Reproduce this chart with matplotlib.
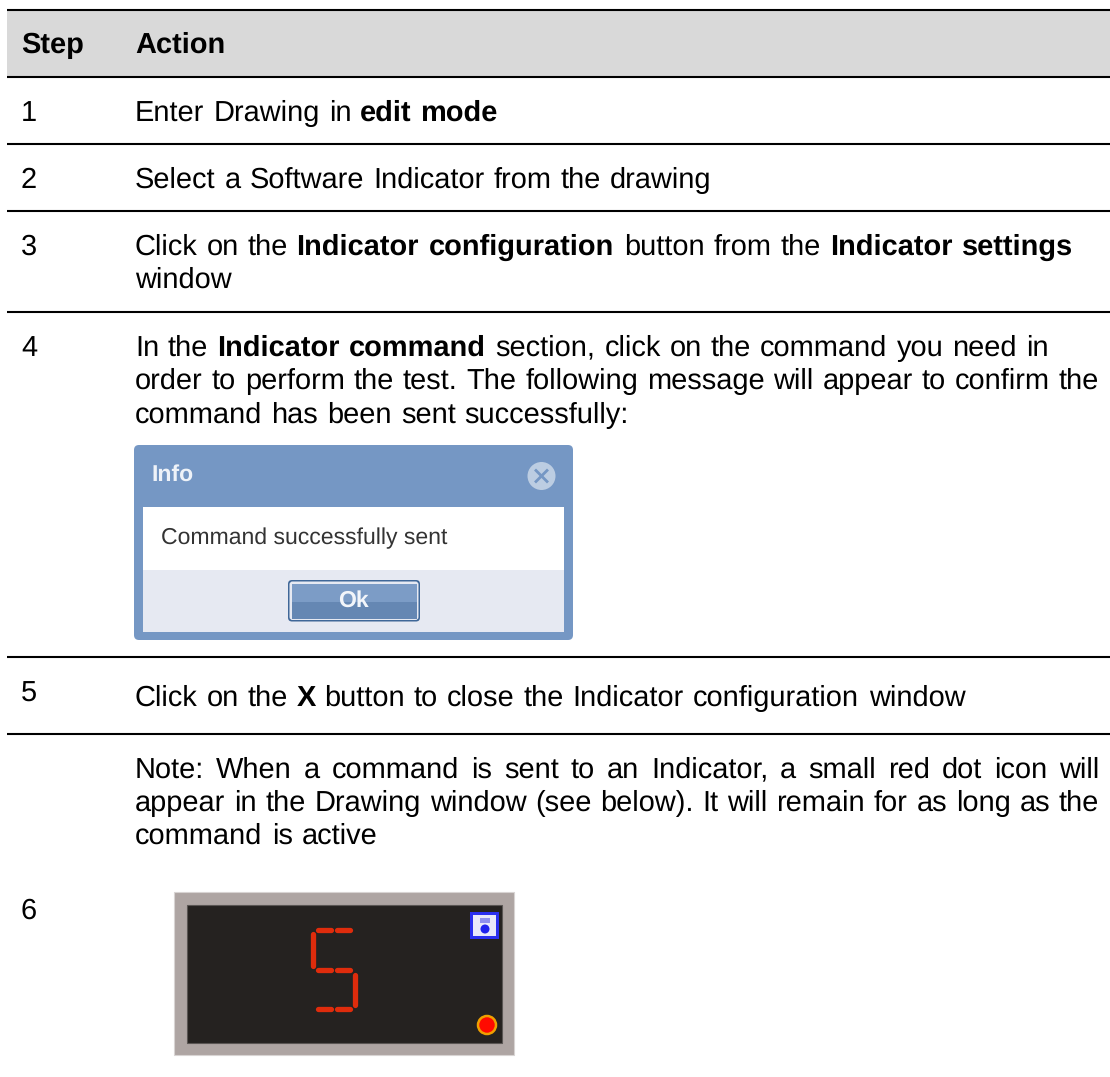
import math
import matplotlib
matplotlib.use("Agg")
import matplotlib.pyplot as plt
from matplotlib.font_manager import FontProperties
from matplotlib.patches import Rectangle, FancyBboxPatch, Circle

plt.rcParams['font.family'] = ['Liberation Sans', 'DejaVu Sans']
plt.rcParams['text.hinting'] = 'no_hinting'
plt.rcParams['text.hinting_factor'] = 1

W, H = 1110, 1077
FONT_PX = 29
WORD_STRETCH = 1.012
fs = FONT_PX * 72 / 100

# Table text. Words between ** are bold
header = ["Step", "Action"]
step_labels = ["1", "2", "3", "4", "5", "6"]
step_y = [121, 188, 255, 356, 701, 919]
row_lines = [
    ("Enter Drawing in **edit mode**", 121, False),
    ("Select a Software Indicator from the drawing", 188, False),
    ("Click on the **Indicator configuration** button from the **Indicator settings**", 255, False),
    ("window", 288, False),
    ("In the **Indicator command** section, click on the command you need in", 356, False),
    ("order to perform the test. The following message will appear to confirm the", 389, True),
    ("command has been sent successfully:", 423, False),
    ("Click on the **X** button to close the Indicator configuration window", 706, False),
    ("Note: When a command is sent to an Indicator, a small red dot icon will", 778, True),
    ("appear in the Drawing window (see below). It will remain for as long as the", 811, True),
    ("command is active", 844, False),
]
rule_y = [10, 77, 144, 210.5, 312, 657, 733.5]

fig = plt.figure(figsize=(W / 100, H / 100), dpi=100)
ax = fig.add_axes([0, 0, 1, 1])
ax.set_xlim(0, W)
ax.set_ylim(H, 0)
ax.axis('off')
renderer = fig.canvas.get_renderer()

TEXT_X = 135
TEXT_RIGHT = 1099


def split_runs(line):
    # gives (word, bold) pairs
    words = []
    for i, part in enumerate(line.split("**")):
        for w in part.split():
            words.append((w, i % 2 == 1))
    return words


def word_width(word, bold):
    t = ax.text(0, 0, word, fontsize=fs, fontweight='bold' if bold else 'normal')
    w = t.get_window_extent(renderer).width
    t.remove()
    return w


def put_text(x, y, word, bold=False):
    # agg places the bitmap from its height and descent, this keeps words on one baseline
    weight = 'bold' if bold else 'normal'
    prop = FontProperties(family='Liberation Sans', size=fs, weight=weight)
    _, h, d = renderer.get_text_width_height_descent(word, prop, False)
    ax.text(x, y + math.floor(h) - math.floor(h - d) - d, word, fontsize=fs, fontweight=weight,
            va='baseline', ha='left', color='black')


space_w = word_width("a a", False) - 2 * word_width("a", False)


def draw_line(line, y, justify):
    words = split_runs(line)
    widths = [word_width(w, b) for w, b in words]
    x = TEXT_X
    if justify:
        gap = (TEXT_RIGHT - TEXT_X - sum(widths)) / (len(words) - 1)
    for (w, b), width in zip(words, widths):
        put_text(x, y, w, b)
        if justify:
            x += width + gap
        else:
            x += (width + space_w) * WORD_STRETCH


# Header band and rules
ax.add_patch(Rectangle((7, 10), W - 7, 67, facecolor='#d9d9d9', edgecolor='none'))
for y in rule_y:
    ax.plot([7, W], [y, y], color='black', lw=1.5, solid_capstyle='butt')

put_text(21, 53, header[0], True)
put_text(135, 53, header[1], True)

for label, y in zip(step_labels, step_y):
    put_text(21, y, label)

for line, y, justify in row_lines:
    draw_line(line, y, justify)

# Info dialog
ax.add_patch(FancyBboxPatch((134, 445), 439, 195, boxstyle='round,pad=0,rounding_size=5',
                            facecolor='#7597c4', edgecolor='none'))
ax.add_patch(Rectangle((142.5, 506.5), 421.5, 63.5, facecolor='white', edgecolor='none'))
ax.add_patch(Rectangle((142.5, 570), 421.5, 61.5, facecolor='#e6e9f2', edgecolor='none'))
ax.text(151, 475, "Info", fontsize=16.5, fontweight='bold', color='#eef2f8', va='center')
ax.add_patch(Circle((541.5, 476), 14, facecolor='#bccde2', edgecolor='none'))
ax.plot([536, 547], [470.5, 481.5], color='#7597c4', lw=2)
ax.plot([536, 547], [481.5, 470.5], color='#7597c4', lw=2)
ax.text(161, 538, "Command successfully sent", fontsize=16.6, color='#333333', va='center')
ax.add_patch(FancyBboxPatch((288, 580), 132, 41.5, boxstyle='round,pad=0,rounding_size=4',
                            facecolor='#3f6798', edgecolor='none'))
ax.add_patch(FancyBboxPatch((289.5, 581.5), 129, 38.5, boxstyle='round,pad=0,rounding_size=3',
                            facecolor='#e6e9f2', edgecolor='none'))
ax.add_patch(Rectangle((291.5, 583.5), 125, 18, facecolor='#7c9cc6', edgecolor='none'))
ax.add_patch(Rectangle((291.5, 601.5), 125, 17, facecolor='#6587b3', edgecolor='none'))
ax.text(353, 601, "Ok", fontsize=16.5, fontweight='bold', color='#f2f5fa', ha='center', va='center')

# Indicator picture
ax.add_patch(Rectangle((174, 892), 340, 163, facecolor='#aea5a3', edgecolor='#d8d4d3', lw=0.8))
ax.add_patch(Rectangle((186.5, 904.5), 315.5, 138, facecolor='#252220', edgecolor='#5a5654', lw=0.8))

segments_x = [[318, 331], [337, 350], [313, 313], [318, 331], [337, 350], [355, 355], [318, 331], [337, 350]]
segments_y = [[930, 930], [930, 930], [934, 966], [970, 970], [970, 970], [975, 1005], [1009, 1009], [1009, 1009]]
for sx, sy in zip(segments_x, segments_y):
    ax.plot(sx, sy, color='#df2c0c', lw=3.8, solid_capstyle='round')

ax.add_patch(Rectangle((470, 912), 29, 27, facecolor='#2a2ff0', edgecolor='none'))
ax.add_patch(Rectangle((473, 915), 23, 21, facecolor='#e8e8fb', edgecolor='none'))
ax.add_patch(Rectangle((480, 918), 10, 5, facecolor='#8f90ee', edgecolor='none'))
ax.add_patch(Circle((485, 929), 4.5, facecolor='#1f22ee', edgecolor='none'))
ax.add_patch(Circle((487, 1025), 9, facecolor='#ff0a00', edgecolor='#f0a000', lw=1.8))

fig.savefig("out.png", dpi=100)
